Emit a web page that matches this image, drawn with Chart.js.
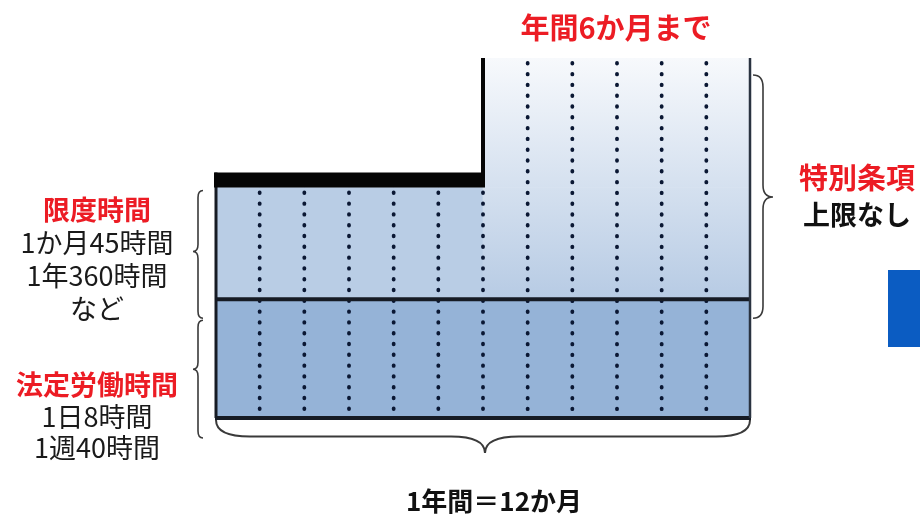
<!DOCTYPE html>
<html lang="ja">
<head>
<meta charset="utf-8">
<title>時間外労働の上限</title>
<script src="https://cdn.jsdelivr.net/npm/chart.js@4/dist/chart.umd.min.js"></script>
<style>
  html, body { margin: 0; padding: 0; background: #fff; }
  #wrap { position: relative; width: 920px; height: 514px; overflow: hidden; }
  #side { position: absolute; left: 888px; top: 270px; width: 40px; height: 77px; background: #0b5cc2; }
</style>
</head>
<body>
<div id="wrap">
  <canvas id="myChart" width="920" height="514"></canvas>
  <div id="side"></div>
</div>
<script>
// 1年間 = 12か月, 高さは相対値
let months = ['1月','2月','3月','4月','5月','6月','7月','8月','9月','10月','11月','12月'];
let legalHours   = [100,100,100,100,100,100,100,100,100,100,100,100]; // 法定労働時間
let limitHours   = [94,94,94,94,94,94,94,94,94,94,94,94];             // 限度時間
let specialHours = [0,0,0,0,0,0,109,109,109,109,109,109];             // 特別条項 (年間6か月まで)
let yMax = 303;

let limitNotes = ['1か月45時間','1年360時間','など'];
let legalNotes = ['1日8時間','1週40時間'];

var FONT = '"Noto Sans CJK JP", "Noto Sans", sans-serif';
var RED = '#ec1c24';
var LINE = '#161b24';

function specialFill(c) {
    let chart = c.chart;
    if (!chart.chartArea) return '#d5e0ee';
    let y = chart.scales.y;
    let g = chart.ctx.createLinearGradient(0, chart.chartArea.top, 0, y.getPixelForValue(legalHours[0]));
    g.addColorStop(0, '#f7f9fc');
    g.addColorStop(1, '#b7cbe4');
    return g;
}

function vBrace(c, x0, y1, y2, ym, d, dir) {
    let xb = x0 + dir * d / 2, xt = x0 + dir * d;
    let r = d / 2 + 2;
    c.beginPath();
    c.moveTo(x0, y1);
    c.quadraticCurveTo(xb, y1, xb, y1 + r);
    c.lineTo(xb, ym - r);
    c.quadraticCurveTo(xb, ym, xt, ym);
    c.quadraticCurveTo(xb, ym, xb, ym + r);
    c.lineTo(xb, y2 - r);
    c.quadraticCurveTo(xb, y2, x0, y2);
    c.stroke();
}

function hBrace(c, y0, x1, x2, xm, d, r) {
    let yb = y0 + d / 2, yt = y0 + d;
    c.beginPath();
    c.moveTo(x1, y0);
    c.quadraticCurveTo(x1, yb, x1 + r, yb);
    c.lineTo(xm - r, yb);
    c.quadraticCurveTo(xm, yb, xm, yt);
    c.quadraticCurveTo(xm, yb, xm + r, yb);
    c.lineTo(x2 - r, yb);
    c.quadraticCurveTo(x2, yb, x2, y0);
    c.stroke();
}

function text(c, s, x, y, size, color, bold) {
    c.font = (bold ? 'bold ' : '') + size + 'px ' + FONT;
    c.fillStyle = color;
    c.textAlign = 'center';
    c.textBaseline = 'middle';
    c.fillText(s, x, y);
}

let decor = {
    id: 'decor',
    afterDatasetsDraw(chart) {
        let c = chart.ctx, x = chart.scales.x, y = chart.scales.y;
        let n = months.length;
        let step = x.getPixelForValue(1) - x.getPixelForValue(0);
        let left = x.getPixelForValue(0) - step / 2;
        let right = x.getPixelForValue(n - 1) + step / 2;
        let base = y.getPixelForValue(0);
        let legalTop = y.getPixelForValue(legalHours[0]);
        let limitTop = y.getPixelForValue(legalHours[0] + limitHours[0]);
        let tops = months.map((m, i) => y.getPixelForValue(legalHours[i] + limitHours[i] + specialHours[i]));
        let firstSpecial = specialHours.findIndex(v => v > 0);
        let stepX = (x.getPixelForValue(firstSpecial - 1) + x.getPixelForValue(firstSpecial)) / 2;

        c.save();
        // dotted month lines
        c.strokeStyle = '#0a1733';
        c.lineWidth = 3.8;
        c.lineCap = 'round';
        c.setLineDash([0.6, 10.2]);
        for (let i = 1; i < n; i++) {
            let bx = (x.getPixelForValue(i - 1) + x.getPixelForValue(i)) / 2;
            let top = Math.max(tops[i - 1], tops[i]);
            c.beginPath();
            c.moveTo(bx, top + 5);
            c.lineTo(bx, base);
            c.stroke();
        }
        c.setLineDash([]);
        c.lineCap = 'butt';

        // solid frame
        c.strokeStyle = LINE;
        c.lineWidth = 4;
        c.beginPath();
        c.moveTo(left, legalTop); c.lineTo(right, legalTop);
        c.moveTo(left, base); c.lineTo(right, base);
        c.stroke();
        c.lineWidth = 3;
        c.beginPath();
        c.moveTo(left + 1, base); c.lineTo(left + 1, limitTop - 15);
        c.stroke();
        c.strokeStyle = '#2a3340';
        c.lineWidth = 2.5;
        c.beginPath();
        c.moveTo(right - 1, base); c.lineTo(right - 1, tops[n - 1]);
        c.stroke();

        // 限度時間の上限 (太線) と段差
        c.fillStyle = '#050505';
        c.fillRect(left - 1, limitTop - 15, stepX - left + 3, 15);
        c.strokeStyle = '#050505';
        c.lineWidth = 4;
        c.beginPath();
        c.moveTo(stepX, tops[n - 1]); c.lineTo(stepX, limitTop - 2);
        c.stroke();

        // braces
        c.strokeStyle = '#3a3a3a';
        c.lineWidth = 1.6;
        vBrace(c, left - 12, limitTop + 3, legalTop + 19, limitTop + 64, 10, -1);
        vBrace(c, left - 12, legalTop + 21, base + 20, legalTop + 70, 10, -1);
        vBrace(c, right + 2, tops[n - 1] + 17, legalTop + 19, tops[n - 1] + 139, 20, 1);
        c.lineWidth = 2;
        hBrace(c, base + 2, left + 1, right - 1, stepX + 2, 33, 34);
        c.restore();
    },
    afterDraw(chart) {
        let c = chart.ctx;
        c.save();
        text(c, '年間6か月まで', 616, 28, 29, RED, true);
        text(c, '限度時間', 97, 210, 27, RED, true);
        limitNotes.forEach((s, i) => text(c, s, 97, 243 + i * 33, 27, '#1a1a1a', false));
        text(c, '法定労働時間', 97, 385, 27, RED, true);
        legalNotes.forEach((s, i) => text(c, s, 97, 417 + i * 31, 27, '#1a1a1a', false));
        text(c, '特別条項', 857, 178, 29, RED, true);
        text(c, '上限なし', 857, 215, 27, '#111', true);
        text(c, '1年間＝12か月', 494, 501, 26, '#111', true);
        c.restore();
    }
};

let myChart1 = document.getElementById('myChart').getContext('2d');
let chart1 = new Chart(myChart1, {
    type: 'bar',
    data: {
        labels: months,
        datasets: [{
            label: '法定労働時間',
            data: legalHours,
            backgroundColor: '#95b3d7'
        }, {
            label: '限度時間',
            data: limitHours,
            backgroundColor: c => specialHours[c.dataIndex] > 0 ? specialFill(c) : '#b9cde5'
        }, {
            label: '特別条項',
            data: specialHours,
            backgroundColor: specialFill
        }]
    },
    options: {
        responsive: false,
        animation: false,
        devicePixelRatio: 1,
        layout: { padding: { left: 215, right: 169, top: 58, bottom: 96 } },
        datasets: { bar: { barPercentage: 1, categoryPercentage: 1, borderWidth: 0 } },
        scales: {
            x: { display: false, stacked: true },
            y: { display: false, stacked: true, min: 0, max: yMax }
        },
        plugins: {
            legend: { display: false },
            tooltip: { enabled: false }
        }
    },
    plugins: [decor]
});
</script>
</body>
</html>
